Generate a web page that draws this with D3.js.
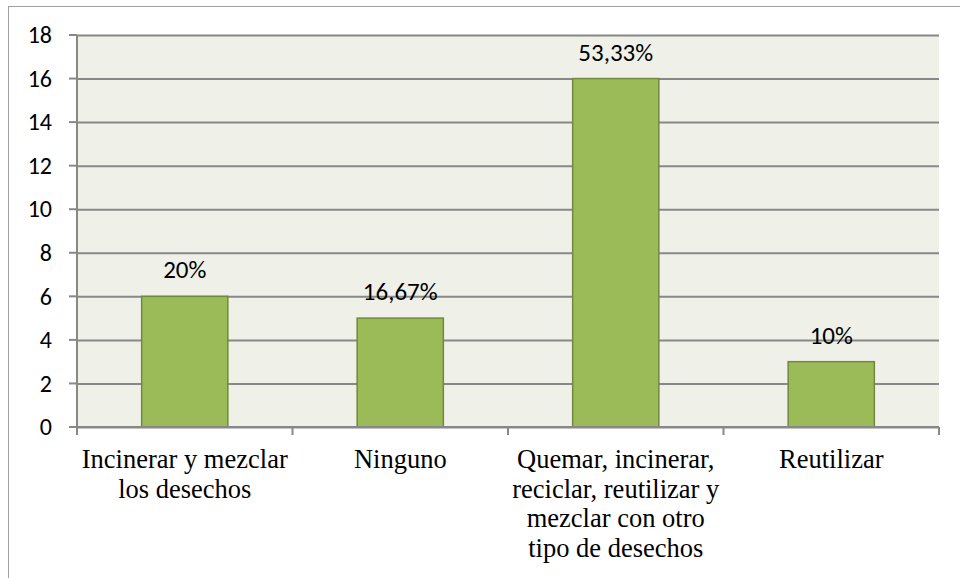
<!DOCTYPE html>
<html>
<head>
<meta charset="utf-8">
<script src="https://cdn.jsdelivr.net/npm/d3@7"></script>
<style>
  body { margin: 0; background: #fff; }
  svg { display: block; }
</style>
</head>
<body>
<svg id="chart" width="960" height="578"></svg>
<script>
// valores
const categories = [
    ["Incinerar y mezclar", "los desechos"],
    ["Ninguno"],
    ["Quemar, incinerar,", "reciclar, reutilizar y", "mezclar con otro", "tipo de desechos"],
    ["Reutilizar"]
];
const counts = [6, 5, 16, 3];
const pctLabels = ["20%", "16,67%", "53,33%", "10%"];
const yTicks = [0, 2, 4, 6, 8, 10, 12, 14, 16, 18];

const svg = d3.select('#chart');
const margin = {top: 35, right: 21, bottom: 151, left: 77};
const width = 960, height = 578;
const sansFont = "Carlito, Lato, 'Open Sans', sans-serif";

// borde exterior
svg.append("rect")
    .attr("x", 8.5).attr("y", 6.5)
    .attr("width", 960).attr("height", 600)
    .attr("fill", "none").attr("stroke", "#a0a0a0");

const x = d3.scaleBand()
    .domain(d3.range(categories.length))
    .range([margin.left, width - margin.right])
    .paddingInner(0.6).paddingOuter(0.3);

const xOuter = d3.scaleBand()
    .domain(d3.range(categories.length))
    .range([margin.left, width - margin.right]);

const y = d3.scaleLinear()
    .domain([0, 18])
    .range([height - margin.bottom, margin.top]);

// fondo del area de trazado
svg.append("rect")
    .attr("x", margin.left).attr("y", margin.top)
    .attr("width", width - margin.right - margin.left)
    .attr("height", y(0) - margin.top)
    .attr("fill", "#eff1e9");

// lineas de cuadricula + eje y
svg.append("g")
    .attr("transform", `translate(${margin.left},0)`)
    .call(d3.axisLeft(y).tickValues(yTicks).tickSize(-(width - margin.right - margin.left)).tickPadding(25))
    .call(g => g.select(".domain").remove())
    .call(g => g.selectAll(".tick line").attr("stroke", "#888").attr("stroke-width", 2))
    .call(g => g.selectAll(".tick text")
        .attr("font-family", sansFont)
        .attr("font-size", 24).attr("fill", "#000"));

// pequenas marcas a la izquierda
svg.append("g")
    .selectAll("line")
    .data(yTicks)
    .join("line")
    .attr("x1", margin.left - 8).attr("x2", margin.left)
    .attr("y1", d => y(d)).attr("y2", d => y(d))
    .attr("stroke", "#888").attr("stroke-width", 2);

// eje vertical
svg.append("line")
    .attr("x1", margin.left).attr("x2", margin.left)
    .attr("y1", margin.top).attr("y2", y(0))
    .attr("stroke", "#888").attr("stroke-width", 2);

// barras
svg.append("g")
    .selectAll("rect")
    .data(counts)
    .join("rect")
    .attr("x", (d, i) => x(i))
    .attr("y", d => y(d))
    .attr("width", x.bandwidth())
    .attr("height", d => y(0) - y(d))
    .attr("fill", "#9bbb59")
    .attr("stroke", "#71893f")
    .attr("stroke-width", 1.5);

// eje x con marcas entre categorias
const xAxis = svg.append("g")
    .attr("transform", `translate(0,${y(0)})`);
xAxis.append("line")
    .attr("x1", margin.left).attr("x2", width - margin.right)
    .attr("stroke", "#888").attr("stroke-width", 2);
xAxis.selectAll(".sep")
    .data(d3.range(categories.length + 1))
    .join("line")
    .attr("x1", i => margin.left + i * xOuter.step())
    .attr("x2", i => margin.left + i * xOuter.step())
    .attr("y1", 0).attr("y2", 8)
    .attr("stroke", "#888").attr("stroke-width", 2);

// etiquetas de categoria
const labels = svg.append("g")
    .selectAll("text")
    .data(categories)
    .join("text")
    .attr("text-anchor", "middle")
    .attr("font-family", "'Liberation Serif', 'Times New Roman', serif")
    .attr("font-size", 26.5)
    .attr("fill", "#000")
    .attr("x", (d, i) => xOuter(i) + xOuter.bandwidth() / 2)
    .attr("y", y(0) + 41);
labels.selectAll("tspan")
    .data(d => d)
    .join("tspan")
    .attr("x", function() { return this.parentNode.getAttribute("x"); })
    .attr("dy", (d, i) => i === 0 ? 0 : 29.5)
    .text(d => d);

// etiquetas de porcentaje
svg.append("g")
    .selectAll("text")
    .data(counts)
    .join("text")
    .attr("text-anchor", "middle")
    .attr("font-family", sansFont)
    .attr("font-size", 25)
    .attr("fill", "#000")
    .attr("x", (d, i) => x(i) + x.bandwidth() / 2)
    .attr("y", d => y(d) - 18)
    .text((d, i) => pctLabels[i]);
</script>
</body>
</html>
